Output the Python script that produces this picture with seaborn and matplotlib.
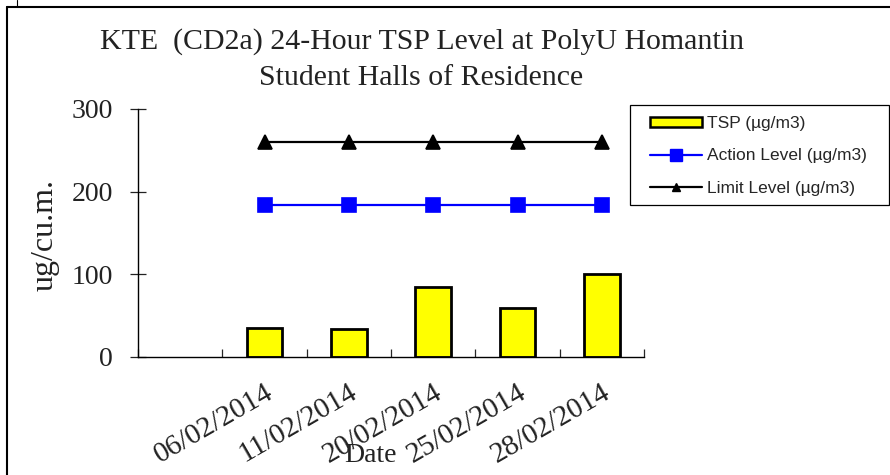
"""
KTE (CD2a) 24-hour TSP level chart
"""

import numpy as np
import pandas as pd
import matplotlib
matplotlib.use('Agg')
import matplotlib.pyplot as plt
from matplotlib.lines import Line2D
from matplotlib.patches import Patch, Rectangle
import seaborn as sns

# ─────────────────────────────────────────────
# DADOS
# ─────────────────────────────────────────────
dates = ['06/02/2014', '11/02/2014', '20/02/2014', '25/02/2014', '28/02/2014']
order = [''] + dates            # primeira categoria vazia no gráfico original
tsp = [35, 34, 85, 59, 100]
action_level = [184, 184, 184, 184, 184]
limit_level = [260, 260, 260, 260, 260]
y_ticks = [0, 100, 200, 300]

df = pd.DataFrame({'Date': dates, 'TSP': tsp,
                   'Action': action_level, 'Limit': limit_level})

SERIF = 'Liberation Serif'
SANS = 'Liberation Sans'

sns.set_style('white')
plt.rcParams['font.family'] = [SERIF, 'DejaVu Serif']

fig = plt.figure(figsize=(8.9, 4.75), dpi=100)
ax = fig.add_axes([138 / 890, 1 - 357 / 475, (644 - 138) / 890, (357 - 109) / 475])

# barras TSP
sns.barplot(data=df, x='Date', y='TSP', order=order, ax=ax,
            color='#FFFF00', edgecolor='black', linewidth=2.0,
            width=0.42, saturation=1)

# linhas Action / Limit
sns.pointplot(data=df, x='Date', y='Action', order=order, ax=ax,
              color='#0000FF', markers='s', markersize=10.5, linewidth=1.6)
sns.pointplot(data=df, x='Date', y='Limit', order=order, ax=ax,
              color='black', markers='^', markersize=9.5, linewidth=1.6)

ax.set_xlim(-0.5, len(order) - 0.5)
ax.set_ylim(0, 300)
ax.set_yticks(y_ticks)
ax.set_yticklabels([str(v) for v in y_ticks], fontsize=20, family=SERIF)
ax.tick_params(axis='y', direction='inout', length=12, width=0.9,
               left=True, pad=12, colors='#222222')

ax.set_xticks(range(len(order)))
ax.set_xticklabels(order, rotation=30, ha='right', rotation_mode='anchor',
                   fontsize=21, family=SERIF, color='#222222')
ax.tick_params(axis='x', which='major', length=0, pad=16)
ax.set_xticks(np.arange(-0.5, len(order), 1.0), minor=True)
ax.tick_params(axis='x', which='minor', direction='in', length=6,
               width=0.9, bottom=True)

ax.set_xlabel('')
ax.set_ylabel('')
for s in ['top', 'right']:
    ax.spines[s].set_visible(False)
for s in ['left', 'bottom']:
    ax.spines[s].set_color('black')
    ax.spines[s].set_linewidth(1.0)

# textos
fig.text(422 / 890, 1 - 42 / 475, 'KTE  (CD2a) 24-Hour TSP Level at PolyU Homantin',
         ha='center', va='center', fontsize=21.5, family=SERIF, color='#222222')
fig.text(421 / 890, 1 - 78 / 475, 'Student Halls of Residence',
         ha='center', va='center', fontsize=21.5, family=SERIF, color='#222222')
fig.text(45 / 890, 1 - 235 / 475, 'ug/cu.m.', rotation=90,
         ha='center', va='center', fontsize=23, family=SERIF, color='#222222')
fig.text(370 / 890, 1 - 455 / 475, 'Date',
         ha='center', va='center', fontsize=20, family=SERIF, color='#222222')

# legenda (moldura desenhada à parte)
handles = [
    Patch(facecolor='#FFFF00', edgecolor='black', linewidth=1.8),
    Line2D([], [], color='#0000FF', marker='s', markersize=8, linewidth=1.6),
    Line2D([], [], color='black', marker='^', markersize=5.5, linewidth=1.6),
]
labels = ['TSP (µg/m3)', 'Action Level (µg/m3)', 'Limit Level (µg/m3)']
fig.legend(handles, labels, loc='upper left',
           bbox_to_anchor=(650 / 890, 1 - 116 / 475),
           prop={'family': SANS, 'size': 12.5}, frameon=False,
           handlelength=3.0, handleheight=0.5, labelspacing=1.0,
           borderpad=0, handletextpad=0.3, borderaxespad=0)
fig.add_artist(Rectangle((630 / 890, 1 - 205 / 475), (889 - 630) / 890, 100 / 475,
                         transform=fig.transFigure, facecolor='none',
                         edgecolor='black', linewidth=0.9))

# moldura exterior
fig.add_artist(Line2D([7 / 890, 1], [1 - 7 / 475, 1 - 7 / 475],
                      color='black', linewidth=1.5, transform=fig.transFigure))
fig.add_artist(Line2D([7 / 890, 7 / 890], [0, 1 - 7 / 475],
                      color='black', linewidth=1.5, transform=fig.transFigure))
fig.add_artist(Line2D([17 / 890, 17 / 890], [1 - 7 / 475, 1],
                      color='black', linewidth=0.8, transform=fig.transFigure))

fig.savefig('out.png', dpi=100)
